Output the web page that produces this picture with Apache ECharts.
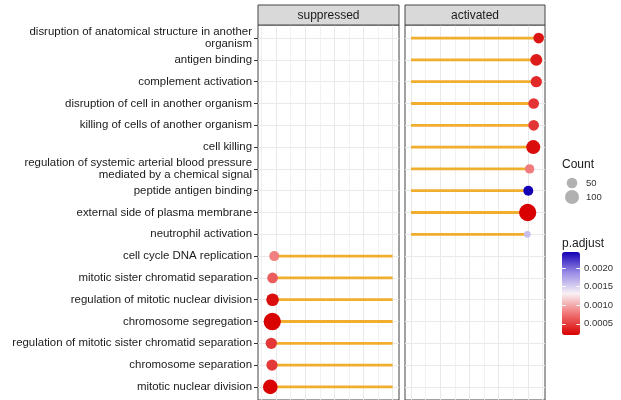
<!DOCTYPE html>
<html><head><meta charset="utf-8">
<script src="https://cdn.jsdelivr.net/npm/echarts@6/dist/echarts.min.js"></script>
<style>html,body{margin:0;padding:0;background:#fff}#c{width:621px;height:400px}</style>
</head><body><div id="c"></div><script>
// ---------- data ----------
const terms = [
  'disruption of anatomical structure in another\norganism',
  'antigen binding',
  'complement activation',
  'disruption of cell in another organism',
  'killing of cells of another organism',
  'cell killing',
  'regulation of systemic arterial blood pressure\nmediated by a chemical signal',
  'peptide antigen binding',
  'external side of plasma membrane',
  'neutrophil activation',
  'cell cycle DNA replication',
  'mitotic sister chromatid separation',
  'regulation of mitotic nuclear division',
  'chromosome segregation',
  'regulation of mitotic sister chromatid separation',
  'chromosome separation',
  'mitotic nuclear division'
];
const groups = ['activated','activated','activated','activated','activated','activated','activated','activated','activated','activated',
  'suppressed','suppressed','suppressed','suppressed','suppressed','suppressed','suppressed'];
const scores = [2.187, 2.146, 2.146, 2.101, 2.101, 2.094, 2.032, 2.009, 1.998, 1.992,
  -2.031, -2.060, -2.060, -2.065, -2.082, -2.070, -2.099];
const counts = [50, 68, 58, 50, 50, 100, 34, 41, 163, 8, 41, 50, 78, 163, 58, 58, 112];
const padj = [0.00030, 0.00033, 0.00040, 0.00045, 0.00046, 0.00026, 0.00080, 0.00243, 0.00020, 0.00160,
  0.00082, 0.00065, 0.00027, 0.00021, 0.00047, 0.00048, 0.00022];
const panels = ['suppressed', 'activated'];
const majorBreaks = [-2, -1.5, -1, -0.5, 0, 0.5, 1, 1.5, 2];
const minorBreaks = [-2.25, -1.75, -1.25, -0.75, -0.25, 0.25, 0.75, 1.25, 1.75, 2.25];
const countLegend = [50, 100];
const padjBreaks = [0.0005, 0.0010, 0.0015, 0.0020];

// ---------- layout / style ----------
const FONT = '"Liberation Sans", Arial, Helvetica, sans-serif';
const PANEL_TOP = 25, PANEL_H = 377, STRIP_H = 20;
const panelLeft = [258, 405], panelW = [141, 140];
const xRange = [[-2.31, 0.11], [-0.103, 2.295]];
const SEG = '#f0ad2e';
const GRID_C = '#e9e9e9';
const sizeOf = c => Math.sqrt(32 + 1.64 * c);
const pMin = Math.min(...padj), pMax = Math.max(...padj);
const rowPos = terms.map((t, i) => i + 1);

const grids = [], xAxes = [], yAxes = [], series = [], graphics = [];
panels.forEach((p, k) => {
  grids.push({left: panelLeft[k], top: PANEL_TOP, width: panelW[k], height: PANEL_H,
    show: true, borderColor: '#444', borderWidth: 1, backgroundColor: '#fff'});
  const xBase = {type: 'value', gridIndex: k, min: xRange[k][0], max: xRange[k][1],
    axisLine: {show: false, onZero: false}, axisLabel: {show: false}};
  xAxes.push(Object.assign({}, xBase, {position: 'bottom',
    axisTick: {show: false, customValues: majorBreaks},
    splitLine: {show: true, lineStyle: {color: GRID_C, width: 1}}}));
  xAxes.push(Object.assign({}, xBase, {position: 'top',
    axisTick: {show: false, customValues: minorBreaks},
    splitLine: {show: true, lineStyle: {color: '#ededed', width: 0.8}}}));
  yAxes.push({type: 'value', gridIndex: k, min: 0.4, max: 17.6, inverse: true, position: 'left',
    axisLine: {show: false, onZero: false},
    axisTick: {show: k === 0, length: 4, lineStyle: {color: '#333'}, customValues: rowPos},
    axisLabel: {show: k === 0, customValues: rowPos, margin: 6, fontSize: 11.45, lineHeight: 12,
      color: '#1a1a1a', fontFamily: FONT, align: 'right',
      formatter: v => terms[Math.round(v) - 1]},
    splitLine: {show: true, lineStyle: {color: GRID_C, width: 1}}});
  const idx = terms.map((t, i) => i).filter(i => groups[i] === p);
  series.push({type: 'custom', xAxisIndex: 2 * k, yAxisIndex: k, z: 2,
    data: idx.map(i => [scores[i], rowPos[i]]),
    encode: {x: 0, y: 1},
    renderItem: (params, api) => {
      const x = api.value(0), y = api.value(1);
      const a = api.coord([0, y]), b = api.coord([x, y]);
      return {type: 'line', shape: {x1: a[0], y1: a[1], x2: b[0], y2: b[1]},
        style: {stroke: SEG, lineWidth: 2.8}};
    }});
  series.push({type: 'scatter', xAxisIndex: 2 * k, yAxisIndex: k, z: 3,
    data: idx.map(i => [scores[i], rowPos[i], counts[i], padj[i]]),
    symbolSize: v => sizeOf(v[2]), itemStyle: {opacity: 1}});
  graphics.push({type: 'rect', z: 10, shape: {x: panelLeft[k], y: PANEL_TOP - STRIP_H, width: panelW[k], height: STRIP_H},
    style: {fill: '#d9d9d9', stroke: '#444', lineWidth: 1}});
  graphics.push({type: 'text', z: 11, style: {x: panelLeft[k] + panelW[k] / 2, y: PANEL_TOP - STRIP_H / 2 + 0.5,
    text: p, align: 'center', verticalAlign: 'middle', fontSize: 12, fill: '#1a1a1a', fontFamily: FONT}});
});

// Count legend grid (index 2)
grids.push({left: 562, top: 176, width: 20, height: 28});
xAxes.push({type: 'value', gridIndex: 2, min: -1, max: 1, show: false});
yAxes.push({type: 'category', gridIndex: 2, data: countLegend.map(String), inverse: true, position: 'right',
  axisLine: {show: false}, axisTick: {show: false}, splitLine: {show: false},
  axisLabel: {margin: 4, fontSize: 9.5, color: '#333', fontFamily: FONT}});
series.push({type: 'scatter', xAxisIndex: 4, yAxisIndex: 2,
  data: countLegend.map((c, i) => [0, i, c]), symbolSize: v => sizeOf(v[2]),
  itemStyle: {color: '#9e9e9e'}, silent: true});

// p.adjust colourbar tick grid (index 3)
grids.push({left: 562, top: 252, width: 18, height: 83});
xAxes.push({type: 'value', gridIndex: 3, min: 0, max: 1, show: false});
yAxes.push({type: 'value', gridIndex: 3, min: pMin, max: pMax, position: 'right', z: 10,
  axisLine: {show: false, onZero: false}, splitLine: {show: false},
  axisTick: {show: true, inside: true, length: 3.6, customValues: padjBreaks, lineStyle: {color: '#fff', width: 1}},
  axisLabel: {customValues: padjBreaks, margin: 4, fontSize: 9.5, color: '#333', fontFamily: FONT,
    formatter: v => v.toFixed(4)}});
yAxes.push({type: 'value', gridIndex: 3, min: pMin, max: pMax, position: 'left', z: 10,
  axisLine: {show: false, onZero: false}, splitLine: {show: false}, axisLabel: {show: false},
  axisTick: {show: true, inside: true, length: 3.6, customValues: padjBreaks, lineStyle: {color: '#fff', width: 1}}});

graphics.push({type: 'text', style: {x: 562, y: 164.5, text: 'Count', verticalAlign: 'middle',
  fontSize: 12, fill: '#1a1a1a', fontFamily: FONT}});
graphics.push({type: 'text', style: {x: 562, y: 243.5, text: 'p.adjust', verticalAlign: 'middle',
  fontSize: 12, fill: '#1a1a1a', fontFamily: FONT}});

const chart = echarts.init(document.getElementById('c'), null, {renderer: 'canvas'});
chart.setOption({
  animation: false,
  backgroundColor: '#fff',
  textStyle: {fontFamily: FONT},
  grid: grids, xAxis: xAxes, yAxis: yAxes, series: series, graphic: graphics,
  visualMap: [{type: 'continuous', seriesIndex: [1, 3], dimension: 3, min: pMin, max: pMax,
    orient: 'vertical', left: 562, top: 252, itemWidth: 18, itemHeight: 83, padding: 0,
    calculable: false, hoverLink: false, z: 5,
    inRange: {color: ['#d80000', '#f07272', '#f8f1f5', '#9a8ce6', '#1400b4']}}]
});
</script></body></html>
